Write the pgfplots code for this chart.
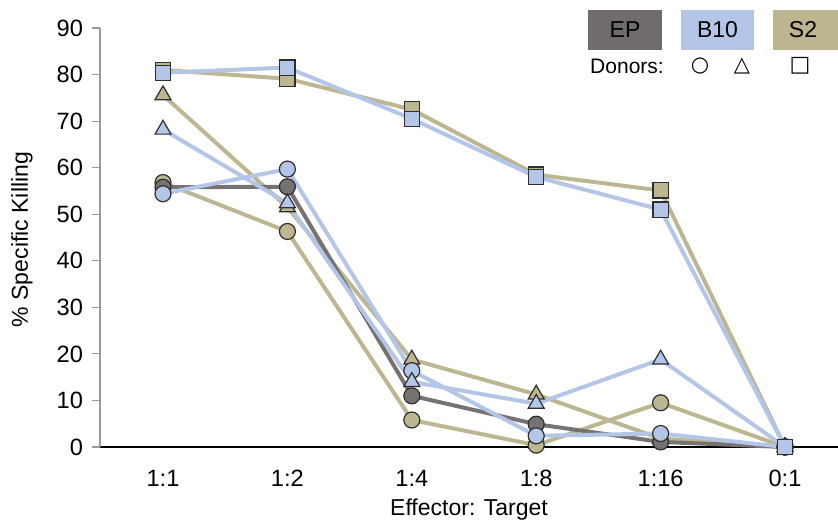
\documentclass[border=0pt]{standalone}
\usepackage{fontspec}
\setmainfont{Liberation Sans}
\newfontfamily\symfont{DejaVu Sans}
\usepackage{pgfplots}
\pgfplotsset{compat=1.18}
\definecolor{epc}{HTML}{767272}
\definecolor{epbox}{HTML}{706C6C}
\definecolor{b10c}{HTML}{B4C6E7}
\definecolor{s2c}{HTML}{BDB791}
\definecolor{s2box}{HTML}{BDB58F}
\definecolor{mk}{HTML}{2E2E2E}
\begin{document}
\begin{tikzpicture}
\useasboundingbox (0,0) rectangle (419pt,260.5pt);
\begin{axis}[
  at={(50pt,37pt)}, anchor=south west,
  scale only axis, width=369pt, height=209.5pt,
  xmin=-0.5064, xmax=5.426, ymin=0, ymax=90,
  axis y line*=left, axis x line*=bottom,
  x axis line style={black, line width=0.8pt},
  y axis line style={gray!80, line width=0.6pt},
  xtick={0,1,2,3,4,5},
  xticklabels={1:1,1:2,1:4,1:8,1:16,0:1},
  ytick={0,10,...,90},
  major x tick style={draw=none},
  y tick style={gray!80, line width=0.6pt},
  tick align=outside, major tick length=4pt,
  /pgf/number format/assume math mode=true,
  tick label style={font=\fontsize{11.8}{13}\selectfont},
  xticklabel style={yshift=-4pt},
  yticklabel style={xshift=-1pt},
  xlabel={Effector: Target}, ylabel={\% Specific Killing},
  label style={font=\fontsize{11.5}{13}\selectfont},
  xlabel style={yshift=1pt},
  ylabel style={at={(axis description cs:-0.1057,0.495)}, anchor=center},
  clip=false,
  every axis plot/.append style={line width=2pt},
]
% S2
\addplot[s2c, mark=*, mark size=4pt, mark options={fill=s2c, draw=mk, line width=0.6pt}] coordinates {(0,56.8) (1,46.3) (2,5.8) (3,0.4) (4,9.5) (5,0)};
\addplot[s2c, mark=triangle*, mark size=4.6pt, mark options={fill=s2c, draw=mk, line width=0.6pt}] coordinates {(0,75.6) (1,51.5) (2,18.8) (3,11.3) (4,1.8) (5,0)};
\addplot[s2c, mark=square*, mark size=3.8pt, mark options={fill=s2c, draw=mk, line width=0.6pt}] coordinates {(0,81) (1,79.1) (2,72.5) (3,58.5) (4,55.1) (5,0)};
% EP
\addplot[epc, mark=*, mark size=4pt, mark options={fill=epc, draw=mk, line width=0.6pt}] coordinates {(0,55.8) (1,55.9) (2,11) (3,4.9) (4,1.1) (5,0)};
% B10
\addplot[b10c, mark=*, mark size=4pt, mark options={fill=b10c, draw=mk, line width=0.6pt}] coordinates {(0,54.4) (1,59.7) (2,16.4) (3,2.4) (4,2.9) (5,0)};
\addplot[b10c, mark=triangle*, mark size=4.6pt, mark options={fill=b10c, draw=mk, line width=0.6pt}] coordinates {(0,68.2) (1,52.4) (2,14) (3,9.3) (4,18.8) (5,0)};
\addplot[b10c, mark=square*, mark size=3.8pt, mark options={fill=b10c, draw=mk, line width=0.6pt}] coordinates {(0,80.4) (1,81.5) (2,70.5) (3,58) (4,51) (5,0)};
\end{axis}
% legend
\fill[epbox] (294pt,235.5pt) rectangle (331pt,255.5pt);
\fill[b10c] (340.5pt,235.5pt) rectangle (377pt,255.5pt);
\fill[s2box] (386.5pt,235.5pt) rectangle (419pt,255.5pt);
\node[font=\fontsize{11.5}{13}\selectfont] at (312.5pt,245.5pt) {EP};
\node[font=\fontsize{11.5}{13}\selectfont] at (358.75pt,245.5pt) {B10};
\node[font=\fontsize{11.5}{13}\selectfont] at (401.5pt,245.5pt) {S2};
\node[font=\fontsize{10.5}{12}\selectfont] at (313.5pt,227.5pt) {Donors:};
\node[font=\symfont\fontsize{10.5}{12}\selectfont] at (350pt,227.5pt) {○};
\node[font=\symfont\fontsize{10.5}{12}\selectfont] at (371pt,227.5pt) {△};
\node[font=\symfont\fontsize{11}{12}\selectfont] at (400pt,227.5pt) {□};
\end{tikzpicture}
\end{document}
